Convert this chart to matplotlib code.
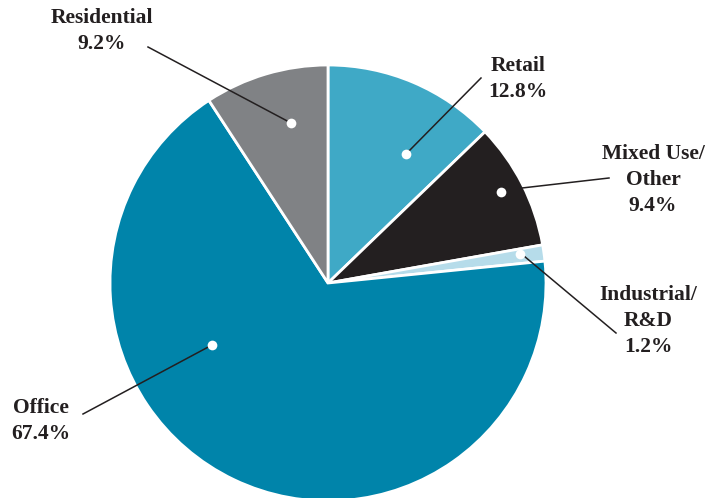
import matplotlib.pyplot as plt

# share by property type, clockwise from 12 o'clock
labels = ["Retail", "Mixed Use/\nOther", "Industrial/\nR&D", "Office", "Residential"]
shares = [12.8, 9.4, 1.2, 67.4, 9.2]
colors = ["#3fa9c6", "#231f20", "#b6dcea", "#0084aa", "#808285"]

W, H = 707, 498
# layout in pixel coords (y measured from top): dot, line start, line end, text centre
LAYOUT = [
    ((406, 154), (406, 154), (481, 78), (518, 79)),
    ((501, 192), (522, 188), (609, 178), (653, 180)),
    ((520, 254), (524, 256), (616, 333), (648, 321)),
    ((212, 345), (212, 345), (83, 414), (41, 421)),
    ((291, 123), (291, 123), (148, 47), (102, 31)),
]

fig = plt.figure(figsize=(W / 100, H / 100), dpi=100)
ax = fig.add_axes([0, 0, 1, 1])

ax.pie(shares, colors=colors, startangle=90, counterclock=False,
       center=(328, H - 283), radius=218, frame=True,
       wedgeprops=dict(edgecolor="white", linewidth=2))
ax.set_xlim(0, W)
ax.set_ylim(0, H)
ax.set_aspect("equal")
ax.axis("off")

font = dict(family=["Liberation Serif", "DejaVu Serif"], weight="bold",
            size=15.5, color="#231f20")

for lab, val, (dot, p0, p1, txt) in zip(labels, shares, LAYOUT):
    ax.plot([p0[0], p1[0]], [H - p0[1], H - p1[1]], color="#231f20",
            lw=1.1, zorder=4)
    ax.plot(dot[0], H - dot[1], "o", color="white", ms=7, mec="none", zorder=5)
    ax.text(txt[0], H - txt[1], f"{lab}\n{val:.1f}%", ha="center", va="center",
            multialignment="center", linespacing=1.38, **font)

fig.savefig("out.png", dpi=100)
